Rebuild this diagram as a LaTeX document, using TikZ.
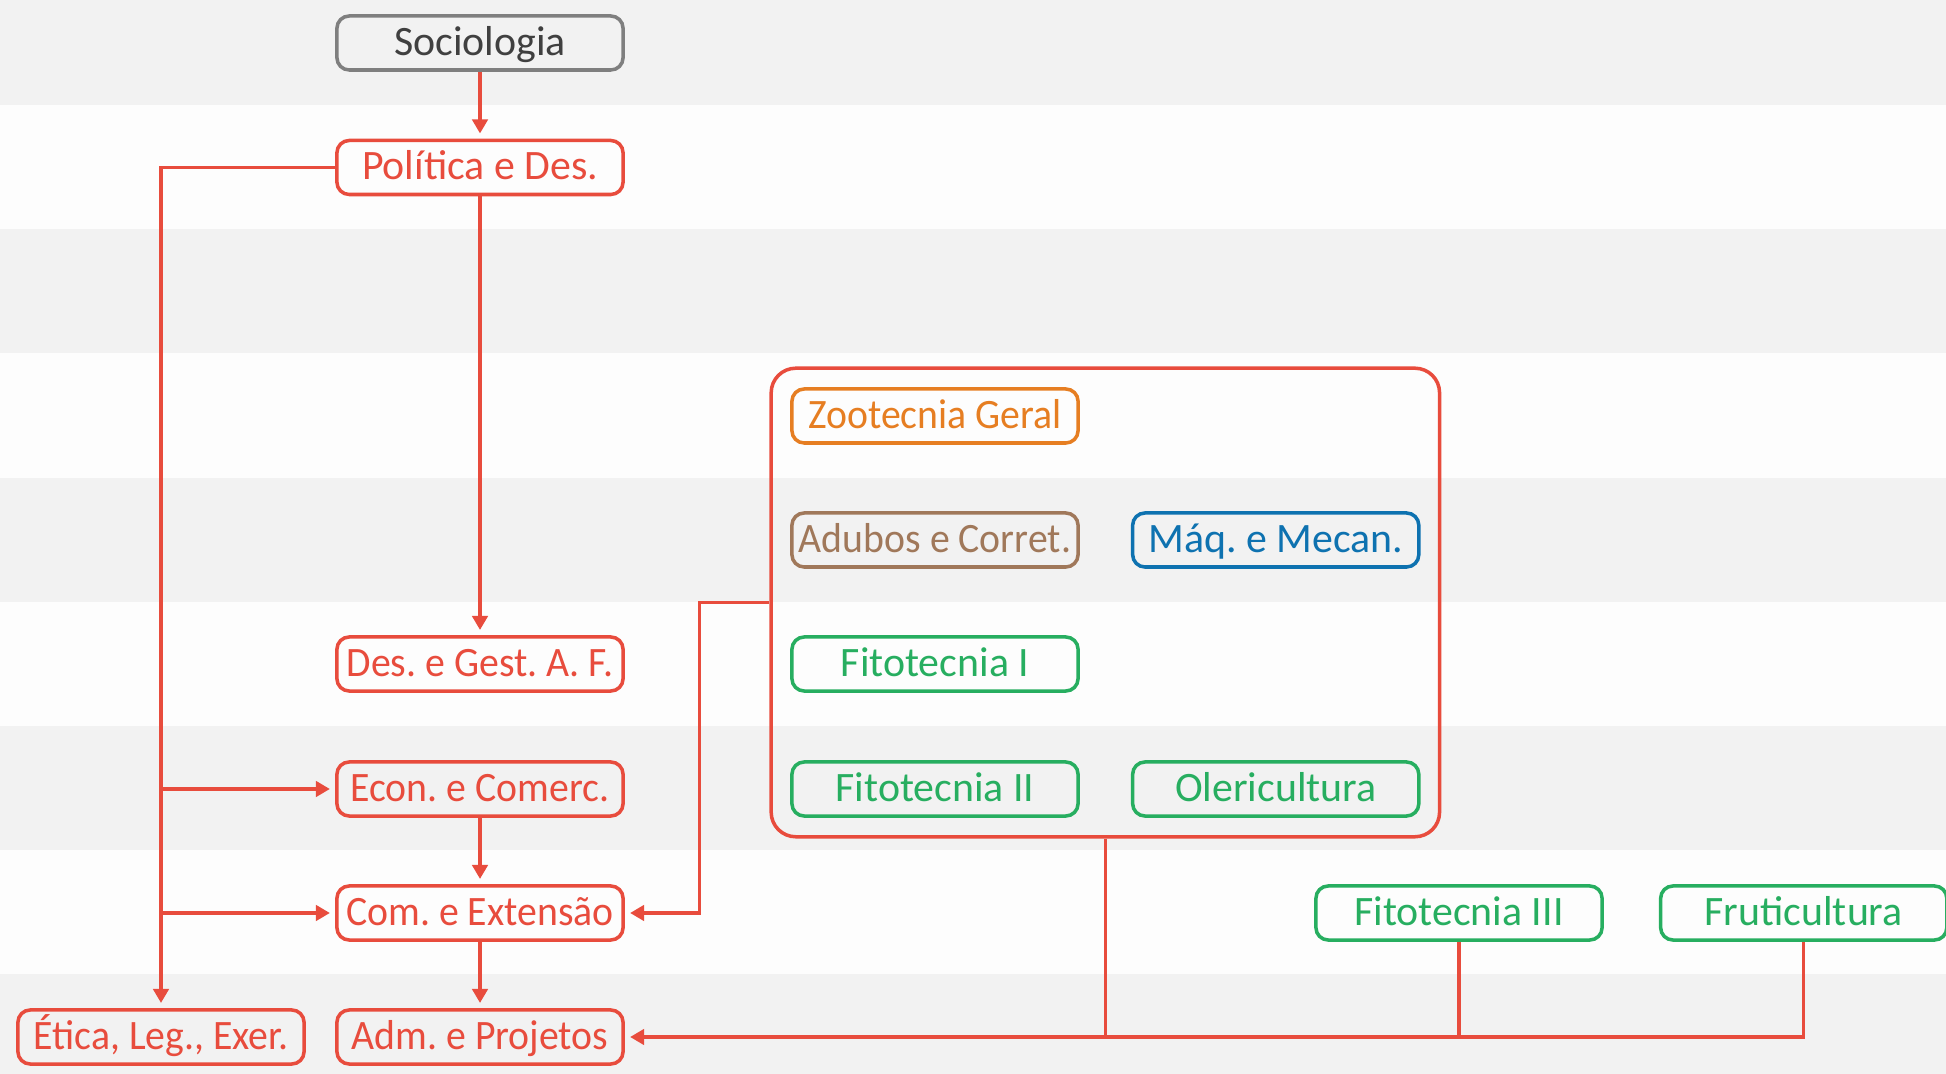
\documentclass[tikz,border=0pt]{standalone}
\usepackage{fontspec}
\setmainfont{Carlito}
\newfontfamily\narrowfont[FakeStretch=0.95]{Carlito}
\usetikzlibrary{positioning, arrows.meta, fit, calc}
\definecolor{cRed}{HTML}{E84C3D}
\definecolor{cGray}{HTML}{7F7F7F}
\definecolor{cText}{HTML}{404040}
\definecolor{cOrange}{HTML}{E67E22}
\definecolor{cBrown}{HTML}{A0785A}
\definecolor{cBlue}{HTML}{0E72B0}
\definecolor{cGreen}{HTML}{27AE60}
\definecolor{bandGray}{HTML}{F2F2F2}
\definecolor{bandWhite}{HTML}{FDFDFD}
\frenchspacing
\tikzstyle{cnode} = [%
  rectangle,
  rounded corners=3.5pt,
  draw=cRed,
  text=cRed,
  line width=1pt,
  minimum width=2.86cm,
  minimum height=0.54cm,
  inner sep=0.5pt,
  text height=8.3pt,
  text depth=1.2pt,
  align=center,
  font=\fontsize{11.9}{14}\selectfont
]

\begin{document}
\begin{tikzpicture}[%
  x=0.01cm, y=-0.01cm,
  conn/.style={%
    -{Triangle[length=4pt,width=4.4pt]},
    draw=cRed,
    line width=0.95pt,
    shorten >=1.5pt
  },
  link/.style={draw=cRed, line width=0.95pt},
  bigbox/.style={%
    draw=cRed,
    line width=1pt,
    rounded corners=7pt,
    inner sep=0.19cm
  },
  narrow/.style={font=\fontsize{11.9}{14}\narrowfont},
  gray/.style={draw=cGray, text=cText},
  orange/.style={draw=cOrange, text=cOrange},
  brown/.style={draw=cBrown, text=cBrown},
  blue/.style={draw=cBlue, text=cBlue},
  green/.style={draw=cGreen, text=cGreen}
]

  \useasboundingbox (0,0) rectangle (1946,1074);

  % Bands
  \begin{scope}
    \clip (0,0) rectangle (1946,1074);
    \foreach \i [evaluate=\i as \yc using 43+124.2*\i] in {0,...,8} {
      \ifodd\i \def\bc{bandWhite}\else \def\bc{bandGray}\fi
      \fill[\bc] (0,\yc-62.1) rectangle (1946,\yc+62.1);
    }
  \end{scope}

  % Nodes
  \node[cnode,gray] (soc) at (480,43) {Sociologia};
  \node[cnode] (pol) at (480,167.5) {Política e Des.};
  \node[cnode,narrow] (des) at (480,664) {Des. e Gest. A. F.};
  \node[cnode,narrow] (eco) at (480,789) {Econ. e Comerc.};
  \node[cnode,narrow] (com) at (480,913) {Com. e Extensão};
  \node[cnode,narrow] (adm) at (480,1037) {Adm. e Projetos};
  \node[cnode,narrow] (eti) at (161,1037) {Ética, Leg., Exer.};

  \node[cnode,orange,narrow] (zoo) at (935,416) {Zootecnia Geral};
  \node[cnode,brown,narrow] (adu) at (935,540) {Adubos e Corret.};
  \node[cnode,blue,right=0.51cm of adu] (maq) {Máq. e Mecan.};
  \node[cnode,green] (fi1) at (935,664) {Fitotecnia I};
  \node[cnode,green] (fi2) at (935,789) {Fitotecnia II};
  \node[cnode,green,right=0.51cm of fi2] (ole) {Olericultura};
  \node[bigbox,fit=(zoo)(maq)(fi2)(ole)] (box) {};

  \node[cnode,green] (fi3) at (1459,913) {Fitotecnia III};
  \node[cnode,green,right=0.55cm of fi3] (fru) {Fruticultura};

  % Edges
  \draw[conn] (soc) -- (pol);
  \draw[conn] (pol) -- (des);
  \draw[conn] (eco) -- (com);
  \draw[conn] (com) -- (adm);
  \draw[conn] (pol.west) -| (eti.north);
  \draw[conn] (eti.north |- eco) -- (eco.west);
  \draw[conn] (eti.north |- com) -- (com.west);
  \draw[conn] (box.west) -- ++(-0.7cm,0) |- (com.east);
  \draw[conn] (box.south) |- (adm.east);
  \draw[link] (fi3.south) -- (fi3.south |- adm);
  \draw[link] (fru.south) |- (box.south |- adm);

\end{tikzpicture}
\end{document}
